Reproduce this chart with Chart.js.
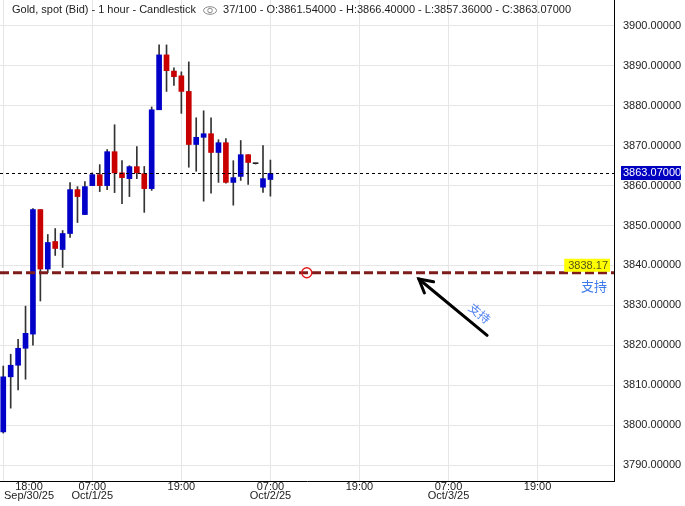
<!DOCTYPE html>
<html><head><meta charset="utf-8">
<script src="https://cdn.jsdelivr.net/npm/chart.js@4/dist/chart.umd.min.js"></script>
<style>html,body{margin:0;padding:0;background:#fff;overflow:hidden}canvas{display:block}</style>
</head><body>
<canvas id="c" width="685" height="506"></canvas>
<script>
// ---- data (hourly candles, index 0 = 19:00 Sep/30/25) ----
const opens  = [3798.3,3812.1,3815.0,3819.25,3822.8,3854.0,3839.1,3846.0,3844.0,3848.0,3859.0,3852.75,3860.0,3862.75,3860.0,3868.5,3863.2,3861.75,3864.75,3863.0,3859.25,3879.0,3892.75,3888.7,3887.5,3883.6,3870.3,3872.1,3873.0,3868.3,3870.75,3860.8,3862.3,3867.75,3865.5,3859.6,3861.54];
const highs  = [3814.8,3817.75,3821.5,3829.8,3854.25,3854.0,3847.75,3849.25,3848.75,3860.75,3859.75,3861.0,3863.2,3865.25,3869.0,3875.25,3866.25,3865.0,3869.75,3864.8,3879.7,3895.25,3895.25,3889.5,3888.5,3891.0,3877.0,3878.75,3877.0,3871.5,3871.8,3866.25,3871.3,3867.75,3865.6,3870.0,3866.4];
const lows   = [3798.0,3804.25,3808.8,3811.5,3820.0,3831.1,3838.2,3842.5,3839.5,3847.0,3850.75,3852.75,3860.0,3858.5,3859.0,3858.25,3855.5,3857.25,3861.75,3853.3,3858.8,3879.0,3883.6,3885.1,3878.1,3864.6,3863.6,3856.1,3858.1,3860.8,3860.6,3855.1,3861.3,3860.3,3865.4,3858.3,3857.36];
const closes = [3812.1,3815.0,3819.25,3823.0,3854.0,3839.1,3845.75,3844.25,3848.0,3859.0,3857.25,3859.75,3862.75,3860.0,3868.5,3863.2,3862.0,3864.75,3863.2,3859.25,3879.0,3892.75,3888.8,3887.3,3883.6,3870.3,3872.1,3873.0,3868.3,3870.75,3860.8,3862.0,3867.75,3865.8,3865.5,3861.75,3863.07];

const yTicks = [3790,3800,3810,3820,3830,3840,3850,3860,3870,3880,3890,3900];
const xTickHours  = [0, 12, 24, 36, 48, 60, 72];
const xTickLabels = [['',''],['07:00','Oct/1/25'],['19:00',''],['07:00','Oct/2/25'],['19:00',''],['07:00','Oct/3/25'],['19:00','']];
const firstTickLabel = ['18:00','Sep/30/25'];

const lastPrice = 3863.07;
const supportLevel = 3838.17;
const supportText = '支持';
const headerTitle = 'Gold, spot (Bid) - 1 hour - Candlestick';
const headerInfo = '37/100 - O:3861.54000 - H:3866.40000 - L:3857.36000 - C:3863.07000';

// annotation anchors in data coordinates (hour, price)
const arrowFrom = [65.2, 3822.5];
const arrowTo   = [56.0, 3836.6];
const arrowTextAt = [64.2, 3828.0];
const circleAt = [40.9, supportLevel];

// ---- build ----
const FIRST_POS = 3.47;
const BLUE = '#0000c8', RED = '#c80000';
const idx = opens.map((_, i) => i);
const bodies = idx.map(i => ({x: i, y: [opens[i], closes[i]]}));
const wicks  = idx.map(i => ({x: i, y: [lows[i], highs[i]]}));
const bodyColor = c => { const i = c.dataIndex; return closes[i] > opens[i] ? BLUE : (closes[i] < opens[i] ? RED : '#222'); };

const overlay = {
  id: 'overlay',
  afterDatasetsDraw(chart) {
    const {ctx, chartArea: a, scales: {x, y}} = chart;
    ctx.save();
    // last price dashed line
    const yp = Math.round(y.getPixelForValue(lastPrice)) + 0.5;
    ctx.strokeStyle = '#000'; ctx.lineWidth = 1; ctx.setLineDash([3, 3]);
    ctx.beginPath(); ctx.moveTo(a.left, yp); ctx.lineTo(a.right, yp); ctx.stroke();
    // support line
    const ys = y.getPixelForValue(supportLevel);
    ctx.strokeStyle = '#7e1c1c'; ctx.lineWidth = 3; ctx.setLineDash([9, 4]);
    ctx.beginPath(); ctx.moveTo(a.left, ys); ctx.lineTo(a.right, ys); ctx.stroke();
    ctx.setLineDash([]);
    // circle marker
    ctx.strokeStyle = '#e01818'; ctx.lineWidth = 1.3;
    ctx.beginPath(); ctx.arc(x.getPixelForValue(circleAt[0]), y.getPixelForValue(circleAt[1]), 5, 0, Math.PI * 2); ctx.stroke();
    // support price tag
    ctx.font = '11px "Liberation Sans", Arial, sans-serif';
    const tw = ctx.measureText('3838.17').width;
    ctx.fillStyle = '#ffff00';
    ctx.fillRect(a.right - 4 - tw - 6, ys - 14, tw + 6, 13);
    ctx.fillStyle = '#55551a'; ctx.textAlign = 'right'; ctx.textBaseline = 'middle';
    ctx.fillText('3838.17', a.right - 6, ys - 7);
    ctx.font = '13px "Noto Sans CJK SC", sans-serif';
    ctx.fillStyle = '#3c7ae8';
    ctx.fillText(supportText, a.right - 7, ys + 13);
    // arrow
    const x1 = x.getPixelForValue(arrowFrom[0]), y1 = y.getPixelForValue(arrowFrom[1]);
    const x2 = x.getPixelForValue(arrowTo[0]), y2 = y.getPixelForValue(arrowTo[1]);
    const ang = Math.atan2(y2 - y1, x2 - x1);
    ctx.strokeStyle = '#000'; ctx.lineWidth = 3; ctx.lineCap = 'round';
    ctx.beginPath(); ctx.moveTo(x1, y1); ctx.lineTo(x2, y2); ctx.stroke();
    ctx.beginPath();
    ctx.moveTo(x2 - 15 * Math.cos(ang - 0.5), y2 - 15 * Math.sin(ang - 0.5));
    ctx.lineTo(x2, y2);
    ctx.lineTo(x2 - 15 * Math.cos(ang + 0.5), y2 - 15 * Math.sin(ang + 0.5));
    ctx.stroke();
    // rotated arrow text
    ctx.save();
    ctx.translate(x.getPixelForValue(arrowTextAt[0]), y.getPixelForValue(arrowTextAt[1]));
    ctx.rotate(ang + Math.PI);
    ctx.font = '12px "Noto Sans CJK SC", sans-serif';
    ctx.fillStyle = '#4d80f0'; ctx.textAlign = 'center'; ctx.textBaseline = 'middle';
    ctx.fillText(supportText, 0, 0);
    ctx.restore();
    ctx.restore();
  },
  afterDraw(chart) {
    const {ctx, chartArea: a, scales: {y}} = chart;
    ctx.save();
    // header
    ctx.font = '11px "Liberation Sans", Arial, sans-serif';
    ctx.fillStyle = '#222'; ctx.textAlign = 'left'; ctx.textBaseline = 'middle';
    let hx = 12;
    ctx.fillText(headerTitle, hx, 10);
    hx += ctx.measureText(headerTitle).width + 8;
    // eye icon
    ctx.strokeStyle = '#888'; ctx.lineWidth = 1;
    ctx.beginPath(); ctx.ellipse(hx + 6, 10.5, 6.5, 3.8, 0, 0, Math.PI * 2); ctx.stroke();
    ctx.beginPath(); ctx.arc(hx + 6, 10.5, 2.3, 0, Math.PI * 2); ctx.stroke();
    hx += 19;
    ctx.fillText(headerInfo, hx, 10);
    // last price tag on axis
    const yp = y.getPixelForValue(lastPrice);
    ctx.fillStyle = '#0000c0';
    ctx.fillRect(a.right + 7, Math.round(yp) - 7, 60, 14);
    ctx.fillStyle = '#fff';
    ctx.fillText(lastPrice.toFixed(5), a.right + 9, Math.round(yp));
    ctx.restore();
  }
};

new Chart(document.getElementById('c'), {
  type: 'bar',
  data: { datasets: [
    { data: bodies, backgroundColor: bodyColor, barThickness: 5, grouped: false, minBarLength: 1, borderWidth: 0 },
    { data: wicks, backgroundColor: '#333', barThickness: 1, grouped: false, borderWidth: 0 }
  ]},
  options: {
    responsive: false, animation: false, devicePixelRatio: 1,
    layout: { padding: 0 },
    plugins: { legend: { display: false }, tooltip: { enabled: false } },
    scales: {
      x: {
        type: 'linear', min: -0.44, max: 82.3, offset: false,
        afterBuildTicks: ax => { ax.ticks = [FIRST_POS, ...xTickHours].map(v => ({value: v})); },
        afterFit: ax => { ax.height = 25; ax.paddingLeft = 0; ax.paddingRight = 0; },
        ticks: {
          autoSkip: false, maxRotation: 0, padding: 1, color: '#222',
          font: { family: '"Liberation Sans", Arial, sans-serif', size: 11, lineHeight: 0.85 },
          callback: v => { if (v === FIRST_POS) return firstTickLabel; const k = xTickHours.indexOf(v); return k >= 0 ? xTickLabels[k] : ''; }
        },
        grid: { offset: false, color: c => (c.tick && c.tick.value === FIRST_POS) ? 'rgba(0,0,0,0)' : '#e6e6e6', drawTicks: false },
        border: { color: '#000', width: 1 }
      },
      y: {
        position: 'right', min: 3786, max: 3906.5,
        afterBuildTicks: ax => { ax.ticks = yTicks.map(v => ({value: v})); },
        afterFit: ax => { ax.width = 71; ax.paddingTop = 0; ax.paddingBottom = 0; },
        ticks: { padding: 9, color: '#222', font: { family: '"Liberation Sans", Arial, sans-serif', size: 11 }, callback: v => Number(v).toFixed(5) },
        grid: { color: '#e6e6e6', drawTicks: false },
        border: { color: '#000', width: 1 }
      }
    }
  },
  plugins: [overlay]
});
</script>
</body></html>
